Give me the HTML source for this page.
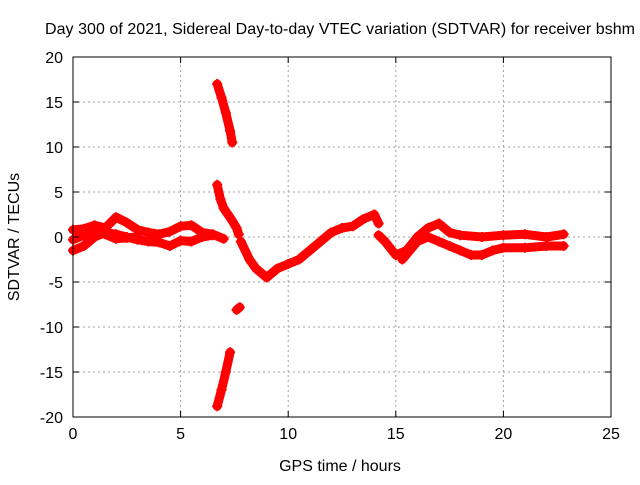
<!DOCTYPE html>
<html><head><meta charset="utf-8"><style>
body{margin:0;background:#fff}
svg text{font-family:"Liberation Sans",sans-serif;font-size:16px;fill:#000}
</style></head><body>
<svg width="640" height="480" id="c">
<text x="340" y="34" text-anchor="middle" textLength="590">Day 300 of 2021, Sidereal Day-to-day VTEC variation (SDTVAR) for receiver bshm</text>
<text x="340" y="471" text-anchor="middle">GPS time / hours</text>
<text transform="translate(19,237) rotate(-90)" text-anchor="middle">SDTVAR / TECUs</text>
<g id="grid"></g><g id="series"></g><g id="axes"></g>
</svg>
<script>
const xTicks=[0,5,10,15,20,25];
const yTicks=[-20,-15,-10,-5,0,5,10,15,20];
const trackUpperT=[0,0.5,1,1.5,2,2.5,3,3.5,4,4.5,5,5.5,6,6.5,7];
const trackUpperV=[0.8,0.9,1.3,1.0,2.2,1.6,0.8,0.5,0.3,0.6,1.2,1.3,0.5,0.3,-0.2];
const trackLowerT=[0,0.5,1,1.5,2,2.5,3,3.5,4,4.5,5,5.5,6,6.5];
const trackLowerV=[-1.5,-1.0,0.0,0.5,0.3,0,-0.3,-0.5,-0.6,-1.0,-0.4,-0.5,0,0.2];
const trackMidT=[0,0.5,1,1.5,2,2.5,3];
const trackMidV=[-0.3,0.2,0.9,0.3,-0.2,-0.1,0];
const steepTopT=[6.7,6.9,7.1,7.3,7.4];
const steepTopV=[17,15.5,13.8,11.8,10.5];
const steepMidT=[6.7,6.85,7.0,7.2,7.4,7.6,7.7];
const steepMidV=[5.8,4.2,3.2,2.5,1.8,1.0,0.3];
const steepBotT=[6.7,6.9,7.1,7.3];
const steepBotV=[-18.8,-17,-15,-12.8];
const dotT=[7.6,7.75];
const dotV=[-8.1,-7.8];
const dipT=[7.8,8.2,8.5,9,9.5,10,10.5,11,11.5,12,12.5,13,13.5,14,14.2];
const dipV=[-0.5,-2.5,-3.5,-4.5,-3.5,-3,-2.5,-1.5,-0.5,0.5,1,1.2,2,2.5,1.5];
const lateUpperT=[14.2,14.5,15,15.5,16,16.5,17,17.5,18,19,20,21,22,22.8];
const lateUpperV=[0.2,-0.5,-2,-1.5,0,1,1.5,0.5,0.2,0,0.2,0.3,0,0.3];
const lateLowerT=[15.3,16,16.5,17,17.5,18,18.5,19,19.5,20,21,22,22.8];
const lateLowerV=[-2.5,-0.5,0,-0.5,-1,-1.5,-2,-2,-1.5,-1.2,-1.2,-1,-1.0];
const x0=73,x1=611,y0=417,y1=57;
const X=t=>x0+(t-0)/(25-0)*(x1-x0);
const Y=v=>y0-(v+20)/40*(y0-y1);
const NS="http://www.w3.org/2000/svg";
function mk(tag,attrs,parent){const e=document.createElementNS(NS,tag);for(const k in attrs)e.setAttribute(k,attrs[k]);parent.appendChild(e);return e;}
const grid=document.getElementById('grid'),axes=document.getElementById('axes'),series=document.getElementById('series');
xTicks.forEach(t=>{
 if(t>0&&t<25){const l=mk('line',{x1:X(t),x2:X(t),y1:y0,y2:y1,stroke:'#a0a0a0','stroke-dasharray':'2,3'},grid);
 
 }
 const tk=mk('path',{d:`M${X(t)},${y0}v-6M${X(t)},${y1}v6`,stroke:'#000'},axes);
 
 
 const tx=mk('text',{x:X(t),y:y0+22,'text-anchor':'middle'},axes);tx.textContent=t;
 
 
});
yTicks.forEach(v=>{
 if(v>-20&&v<20){const l=mk('line',{x1:x0,x2:x1,y1:Y(v),y2:Y(v),stroke:'#a0a0a0','stroke-dasharray':'2,3'},grid);
 
 }
 const tk=mk('path',{d:`M${x0},${Y(v)}h6M${x1},${Y(v)}h-6`,stroke:'#000'},axes);
 
 
 const tx=mk('text',{x:x0-10,y:Y(v)+6,'text-anchor':'end'},axes);tx.textContent=v;
 
 
});
const frame=mk('rect',{x:x0,y:y1,width:x1-x0,height:y0-y1,fill:'none',stroke:'#000'},axes);


const tracks=[[trackUpperT,trackUpperV],[trackLowerT,trackLowerV],[trackMidT,trackMidV],[steepTopT,steepTopV],[steepMidT,steepMidV],[steepBotT,steepBotV],[dotT,dotV],[dipT,dipV],[lateUpperT,lateUpperV],[lateLowerT,lateLowerV]];
tracks.forEach(([T,V])=>{
 const pts=T.map((t,i)=>X(t)+','+Y(V[i])).join(' ');
 const pl=mk('polyline',{points:pts,fill:'none',stroke:'#f00','stroke-width':9,'stroke-linejoin':'round','stroke-linecap':'round'},series);
 
 
 T.forEach((t,i)=>{const p=mk('path',{d:`M${X(t)-5},${Y(V[i])}h10M${X(t)},${Y(V[i])-5}v10`,stroke:'#f00','stroke-width':2},series);
 
 });
});
</script>
</body></html>
